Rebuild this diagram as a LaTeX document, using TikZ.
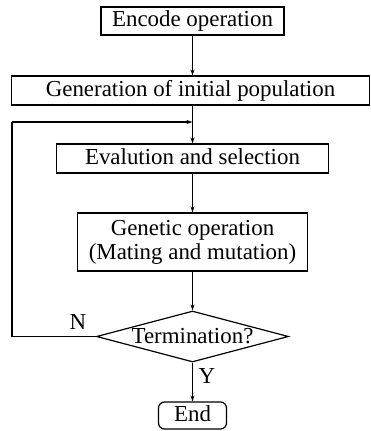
\documentclass[tikz,border=0pt]{standalone}
\usepackage{fontspec}
\setmainfont{Liberation Serif}
\usetikzlibrary{shapes.geometric,arrows.meta}
\begin{document}
\begin{tikzpicture}[x=1pt,y=-1pt,
  every node/.style={font=\fontsize{22.9}{26}\selectfont, inner sep=0pt},
  box/.style={draw, line width=1.2pt, minimum width=#1, text height=16pt, text depth=5pt},
  box/.default=100,
  flow/.style={line width=1.2pt, -{Stealth[length=6pt,width=4pt]}},
  line/.style={line width=1.2pt}]
\useasboundingbox (0,0) rectangle (371,431);
\node[box=183, minimum height=28] (enc) at (192.5,21) {Encode operation};
\node[box=358, minimum height=29] (gen) at (190.5,90.5) {Generation of initial population};
\node[box=272, minimum height=29] (eval) at (192.5,158.5) {Evalution and selection};
\node[draw, line width=1.2pt, minimum width=230, minimum height=58, align=center] (gop) at (192.5,242) {Genetic operation\\[-2pt](Mating and mutation)};
\node[draw, line width=1.2pt, diamond, aspect=3.76, minimum width=192, minimum height=51] (term) at (192.5,336.5) {Termination?};
\node[draw, line width=1.2pt, rounded corners=6pt, minimum width=68, minimum height=27, text height=16pt, text depth=5pt] (end) at (192.5,415.5) {End};
\coordinate (j) at (192.5,122);
\coordinate (lb) at (12,336.5);
\coordinate (lt) at (12,122);
\draw[flow] (enc.south) -- (enc.south |- gen.north);
\draw[flow] (enc.south |- gen.south) -- (eval.north);
\draw[flow] (eval) -- (gop);
\draw[flow] (gop) -- (term);
\draw[flow] (term) -- (end);
\draw[line] (term.west) -- (lb) -- (lt);
\draw[flow] (lt) -- (j);
\node (N) at (78,322) {N};
\node (Y) at (207,376) {Y};
\end{tikzpicture}
\end{document}
